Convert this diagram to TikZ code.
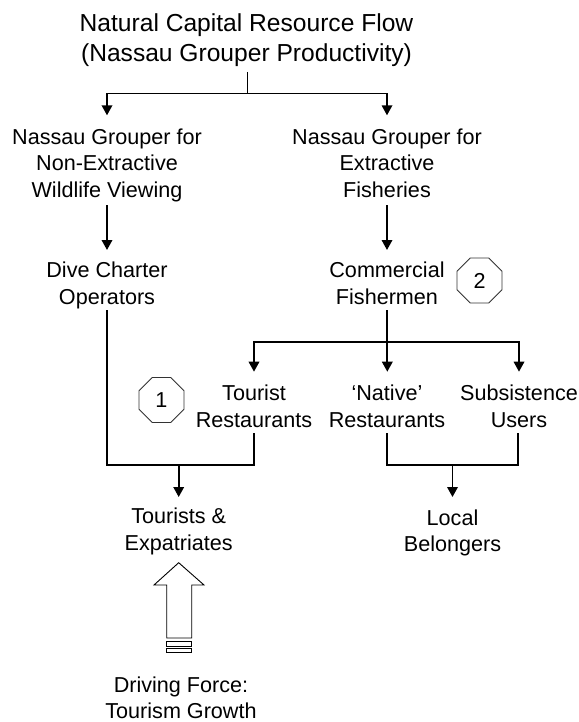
\documentclass[tikz,border=0pt]{standalone}
\usepackage{fontspec}
\setmainfont{Liberation Sans}
\usetikzlibrary{arrows.meta,calc,shapes.geometric}
\begin{document}
\begin{tikzpicture}[x=1pt,y=-1pt,
  txt/.style={inner sep=0pt, anchor=north, align=center, font=\fontsize{21.6}{26.6}\selectfont},
  ttl/.style={inner sep=0pt, anchor=north, align=center, font=\fontsize{24.6}{30}\selectfont},
  ln/.style={line width=1.8pt},
  arr/.style={ln, -{Triangle[width=10.5pt,length=10pt]}},
  octo/.style={draw=black!80, line width=0.9pt, regular polygon, regular polygon sides=8,
    minimum size=48.7pt, inner sep=0pt, font=\fontsize{21.6}{26}\selectfont},
  bigarrow/.style={draw, line width=0.9pt, fill=white}]
\useasboundingbox (0,0) rectangle (578,722);

% text nodes
\node[ttl] (title) at (246.5,13) {Natural Capital Resource Flow\\(Nassau Grouper Productivity)};
\node[txt] (nonext) at (107,128.3) {Nassau Grouper for\\Non-Extractive\\Wildlife Viewing};
\node[txt] (ext) at (387,128.3) {Nassau Grouper for\\Extractive\\Fisheries};
\node[txt] (dive) at (107,261.7) {Dive Charter\\Operators};
\node[txt] (comm) at (387,261.7) {Commercial\\Fishermen};
\node[txt] (tour) at (254,385) {Tourist\\Restaurants};
\node[txt] (native) at (387,385) {‘Native’\\Restaurants};
\node[txt] (subs) at (519,385) {Subsistence\\Users};
\node[txt] (tex) at (178.7,508) {Tourists \&\\Expatriates};
\node[txt] (local) at (452.5,509.5) {Local\\Belongers};
\node[txt] (drive) at (181,676.5) {Driving Force:\\Tourism Growth};

% numbered markers
\node[octo] (m1) at (161.5,400) {1};
\node[octo] (m2) at (479.5,280.5) {2};

% junction points
\coordinate (s1) at ($(title.north)+(1,80.5)$);
\coordinate (s2) at ($(comm.north)+(0.3,80)$);
\coordinate (s3) at ($(tex.north)+(0,-43)$);
\coordinate (s4) at ($(local.north)+(0,-44.5)$);

% resource flow split
\draw[ln] ($(title.north)+(1,59)$) -- (s1);
\draw[arr] (s1) -| ($(nonext.north)+(0,-13)$);
\draw[arr] (s1) -| ($(ext.north)+(0,-13)$);

% to operators and fishermen
\draw[arr] ($(nonext.north)+(0,76.7)$) -- ($(dive.north)+(0,-11.7)$);
\draw[arr] ($(ext.north)+(0,76.7)$) -- ($(comm.north)+(0,-11.7)$);

% fishermen to markets
\draw[ln] ($(comm.north)+(0.3,48.3)$) -- (s2);
\draw[arr] (s2) -| ($(tour.north)+(0,-13.3)$);
\draw[arr] (s2) -- ($(native.north)+(0.3,-13.3)$);
\draw[arr] (s2) -| ($(subs.north)+(0,-13.3)$);

% to tourists & expatriates
\draw[ln] ($(dive.north)+(0,48.3)$) |- (s3) -| ($(tour.north)+(0,48)$);
\draw[arr] (s3) -- ($(tex.north)+(0,-11)$);

% to local belongers
\draw[ln] ($(native.north)+(0,48)$) |- (s4) -| ($(subs.north)+(-0.7,48)$);
\draw[arr] (s4) -- ($(local.north)+(0,-12.5)$);

% striped block arrow for the driving force
\draw[bigarrow] (178.7,562.7) -- (204,585) -- (191.7,585) -- (191.7,638)
  -- (166.7,638) -- (166.7,585) -- (154,585) -- cycle;
\draw[bigarrow] (166.7,641) rectangle (191.7,646);
\draw[bigarrow] (166.7,648.7) rectangle (191.7,652);
\end{tikzpicture}
\end{document}
